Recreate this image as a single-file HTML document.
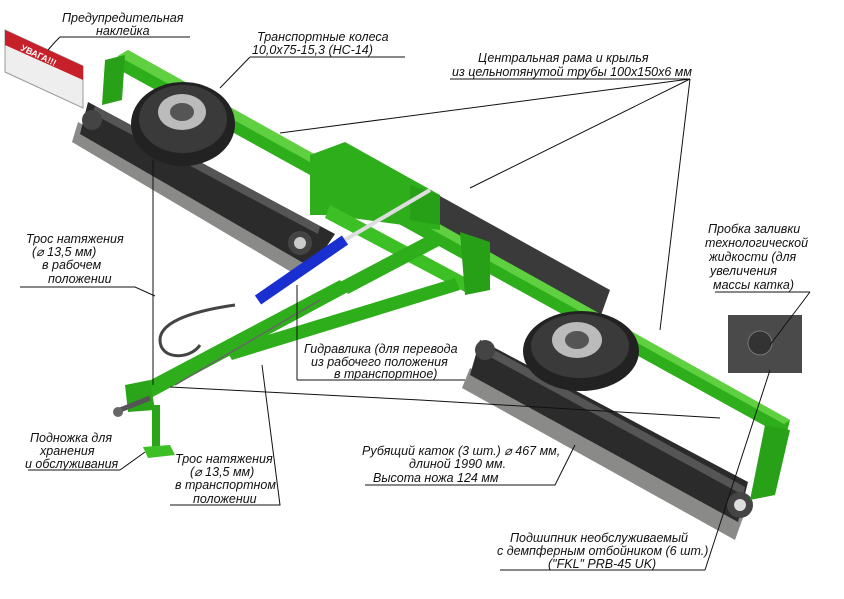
<!DOCTYPE html>
<html><head><meta charset="utf-8"><style>
body{margin:0;background:#fff;}
svg{display:block;}
text{font-family:"Liberation Sans",sans-serif;font-style:italic;font-size:12.5px;fill:#111;}
</style></head><body>
<svg width="844" height="599" viewBox="0 0 844 599">
<polygon points="420,185 610,290 600,318 410,212" fill="#3a3a3a"/>
<polygon points="78,122 305,252 298,276 72,142" fill="#8a8a88"/>
<polygon points="88,102 335,234 312,268 80,134" fill="#2b2b2b"/>
<polygon points="95,106 320,226 318,234 93,114" fill="#555"/>
<polygon points="470,368 745,512 735,540 462,388" fill="#8a8a88"/>
<polygon points="480,340 748,482 738,522 470,375" fill="#2b2b2b"/>
<polygon points="485,345 745,487 743,495 483,353" fill="#555"/>
<circle cx="300" cy="243" r="12" fill="#444"/><circle cx="300" cy="243" r="6" fill="#ccc"/>
<circle cx="740" cy="505" r="13" fill="#444"/><circle cx="740" cy="505" r="6" fill="#ddd"/>
<circle cx="485" cy="350" r="10" fill="#444"/>
<circle cx="92" cy="120" r="10" fill="#444"/>
<polygon points="118,56 128,50 790,420 786,436 776,432 116,68" fill="#2fae1c"/>
<polygon points="118,56 128,50 790,420 784,424" fill="#5fd140"/>
<polygon points="105,60 125,55 122,100 102,105" fill="#28a018"/>
<polygon points="765,425 790,430 775,495 750,500" fill="#28a018"/>
<polygon points="310,155 345,142 440,195 440,230 330,215 310,215" fill="#2fae1c"/>
<polygon points="330,205 470,280 465,292 325,218" fill="#3cc026"/>
<polygon points="460,232 490,242 490,290 465,295" fill="#27a017"/>
<polygon points="410,185 440,195 440,225 410,220" fill="#27a017"/>
<polygon points="128,392 340,280 348,292 136,406" fill="#2fae1c"/>
<polygon points="225,348 455,278 460,290 232,360" fill="#2fae1c"/>
<polygon points="340,282 435,232 443,244 348,294" fill="#2fae1c"/>
<polygon points="125,385 150,380 155,410 128,412" fill="#2aa51a"/>
<line x1="120" y1="410" x2="150" y2="398" stroke="#555" stroke-width="5"/>
<circle cx="118" cy="412" r="5" fill="#666"/>
<rect x="152" y="405" width="8" height="42" fill="#2aa51a"/>
<polygon points="143,447 170,445 175,455 148,458" fill="#3cc026"/>
<line x1="258" y1="300" x2="345" y2="240" stroke="#1a2fd0" stroke-width="11"/>
<line x1="345" y1="240" x2="430" y2="190" stroke="#ddd" stroke-width="4"/>
<path d="M235,305 C200,310 160,320 160,340 C160,360 190,360 200,345" stroke="#444" stroke-width="3" fill="none"/>
<line x1="175" y1="385" x2="320" y2="300" stroke="#666" stroke-width="1.5"/>
<ellipse cx="183" cy="124" rx="52" ry="42" fill="#222"/>
<ellipse cx="183" cy="119" rx="44" ry="34" fill="#3a3a3a"/>
<ellipse cx="182" cy="112" rx="24" ry="18" fill="#bbb"/><ellipse cx="182" cy="112" rx="12" ry="9" fill="#555"/>
<ellipse cx="581" cy="351" rx="58" ry="40" fill="#222"/>
<ellipse cx="580" cy="346" rx="49" ry="32" fill="#3a3a3a"/>
<ellipse cx="577" cy="340" rx="25" ry="18" fill="#bbb"/><ellipse cx="577" cy="340" rx="12" ry="9" fill="#555"/>
<polygon points="5,30 83,66 83,108 5,72" fill="#eee" stroke="#999"/>
<polygon points="5,30 83,66 83,80 5,45" fill="#c8202a"/>
<text x="20" y="50" transform="rotate(25 20 50)" style="font-size:9px;font-weight:bold;fill:#fff;font-style:normal">УВАГА!!!</text>
<rect x="728" y="315" width="74" height="58" fill="#4a4a4a"/>
<circle cx="760" cy="343" r="12" fill="#333" stroke="#777"/>
<g stroke="#111" stroke-width="1" fill="none">
<path d="M60,37 H190 M60,37 L55,42 L48,50"/>
<path d="M250,57 H405 M250,57 L220,88"/>
<path d="M450,79 H690 M690,79 L280,133 M690,79 L470,188 M690,79 L660,330"/>
<path d="M20,287 H135 L155,296"/>
<path d="M153,160 V385"/>
<path d="M297,380 H465 M297,380 L297,285"/>
<path d="M170,387 L420,400 L720,418"/>
<path d="M120,470 L145,452 M28,470 H120"/>
<path d="M170,505 H280 L262,365"/>
<path d="M365,485 H555 L575,445"/>
<path d="M715,292 H810 M810,292 L770,345 M770,370 L705,570 M500,570 H705"/>
</g>
<text x="62" y="22">Предупредительная</text>
<text x="96" y="35">наклейка</text>
<text x="257" y="41">Транспортные колеса</text>
<text x="252" y="54">10,0х75-15,3 (НС-14)</text>
<text x="478" y="62">Центральная рама и крылья</text>
<text x="452" y="76">из цельнотянутой трубы 100х150х6 мм</text>
<text x="26" y="243">Трос натяжения</text>
<text x="32" y="256">(⌀ 13,5 мм)</text>
<text x="42" y="269">в рабочем</text>
<text x="48" y="283">положении</text>
<text x="304" y="353">Гидравлика (для перевода</text>
<text x="311" y="366">из рабочего положения</text>
<text x="334" y="378">в транспортное)</text>
<text x="708" y="233">Пробка заливки</text>
<text x="705" y="247">технологической</text>
<text x="709" y="261">жидкости (для</text>
<text x="710" y="275">увеличения</text>
<text x="713" y="289">массы катка)</text>
<text x="30" y="442">Подножка для</text>
<text x="40" y="455">хранения</text>
<text x="25" y="468">и обслуживания</text>
<text x="175" y="463">Трос натяжения</text>
<text x="190" y="476">(⌀ 13,5 мм)</text>
<text x="175" y="489">в  транспортном</text>
<text x="193" y="503">положении</text>
<text x="362" y="455">Рубящий каток (3 шт.) ⌀ 467 мм,</text>
<text x="409" y="468">длиной  1990 мм.</text>
<text x="373" y="482">Высота ножа 124 мм</text>
<text x="510" y="542">Подшипник необслуживаемый</text>
<text x="497" y="555">с демпферным отбойником (6 шт.)</text>
<text x="548" y="568">("FKL" PRB-45 UK)</text>
</svg>
</body></html>
